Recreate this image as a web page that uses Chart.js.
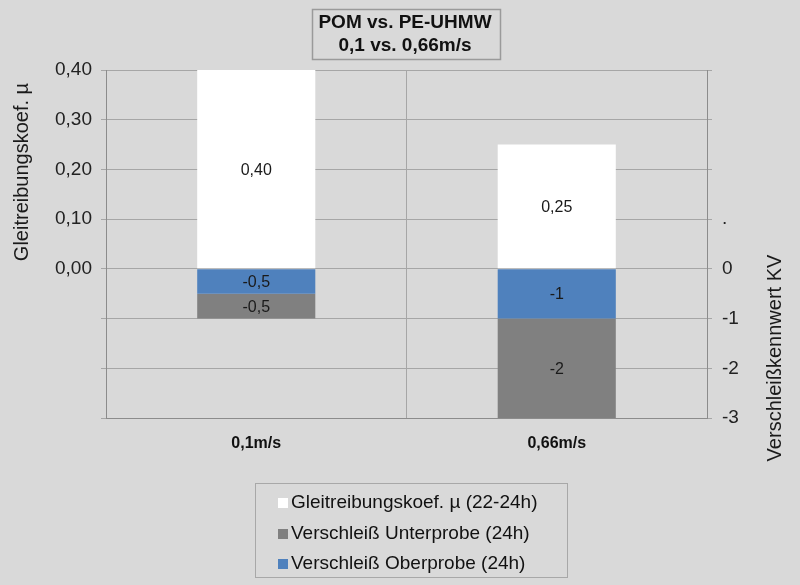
<!DOCTYPE html>
<html><head><meta charset="utf-8">
<script src="https://cdn.jsdelivr.net/npm/chart.js@4/dist/chart.umd.min.js"></script>
<style>html,body{margin:0;padding:0;background:#d9d9d9;} canvas{display:block;}</style>
</head><body>
<canvas id="c" width="800" height="585"></canvas>
<script>
const titleLines = ['POM vs. PE-UHMW', '0,1 vs. 0,66m/s'];
const categories = ['0,1m/s', '0,66m/s'];
const muLabel = 'Gleitreibungskoef. µ (22-24h)';
const muValues = [0.40, 0.25];
const oberLabel = 'Verschleiß Oberprobe (24h)';
const oberValues = [-0.5, -1];
const unterLabel = 'Verschleiß Unterprobe (24h)';
const unterValues = [-0.5, -2];
const leftTitle = 'Gleitreibungskoef. µ';
const rightTitle = 'Verschleißkennwert KV';
const legendOrder = [0, 2, 1];

const FONT = '"Liberation Sans", Arial, sans-serif';
const fmt = (v, d) => (d == null ? String(v) : v.toFixed(d)).replace('.', ',');

const decor = {
  id: 'decor',
  afterDatasetsDraw(chart) {
    const ctx = chart.ctx;
    ctx.save();
    ctx.font = '16px ' + FONT;
    ctx.fillStyle = '#1a1a1a';
    ctx.textAlign = 'center';
    ctx.textBaseline = 'middle';
    chart.data.datasets.forEach((ds, di) => {
      const meta = chart.getDatasetMeta(di);
      meta.data.forEach((el, i) => {
        const v = ds.data[i];
        const txt = di === 0 ? fmt(v, 2) : fmt(v);
        ctx.fillText(txt, el.x, (el.y + el.base) / 2 + 1);
      });
    });
    ctx.restore();
  },
  afterDraw(chart) {
    const ctx = chart.ctx;
    ctx.save();
    // title box
    ctx.font = 'bold 19px ' + FONT;
    ctx.textAlign = 'center';
    ctx.textBaseline = 'middle';
    ctx.strokeStyle = '#9a9a9a';
    ctx.lineWidth = 1.5;
    ctx.strokeRect(312.5, 9.5, 188, 50);
    ctx.fillStyle = '#111';
    ctx.fillText(titleLines[0], 405, 23);
    ctx.fillText(titleLines[1], 405, 46);
    // axis titles
    ctx.font = '20px ' + FONT;
    ctx.fillStyle = '#1a1a1a';
    ctx.save();
    ctx.translate(22, 172);
    ctx.rotate(-Math.PI / 2);
    ctx.fillText(leftTitle, 0, 0);
    ctx.restore();
    ctx.save();
    ctx.translate(775, 358);
    ctx.rotate(-Math.PI / 2);
    ctx.fillText(rightTitle, 0, 0);
    ctx.restore();
    // legend
    ctx.strokeStyle = '#a8a8a8';
    ctx.lineWidth = 1;
    ctx.strokeRect(255.5, 483.5, 312, 94);
    ctx.font = '19px ' + FONT;
    ctx.textAlign = 'left';
    const ys = [502, 533, 563];
    legendOrder.forEach((di, k) => {
      const ds = chart.data.datasets[di];
      ctx.fillStyle = ds.backgroundColor;
      ctx.fillRect(278, ys[k] - 4, 10, 10);
      ctx.fillStyle = '#111';
      ctx.fillText(ds.label, 291, ys[k] + 1);
    });
    ctx.restore();
  }
};

new Chart(document.getElementById('c'), {
  type: 'bar',
  data: {
    labels: categories,
    datasets: [
      { label: muLabel, data: muValues, backgroundColor: '#ffffff', yAxisID: 'y', stack: 's' },
      { label: oberLabel, data: oberValues, backgroundColor: '#4f81bd', yAxisID: 'y2', stack: 's' },
      { label: unterLabel, data: unterValues, backgroundColor: '#808080', yAxisID: 'y2', stack: 's' }
    ]
  },
  options: {
    responsive: false,
    animation: false,
    devicePixelRatio: 1,
    layout: { padding: { top: 70, left: 0, right: 0, bottom: 120 } },
    datasets: { bar: { categoryPercentage: 1, barPercentage: 0.393 } },
    plugins: { legend: { display: false }, title: { display: false }, tooltip: { enabled: false } },
    scales: {
      x: {
        stacked: true,
        afterFit: s => { s.height = 47; },
        grid: { color: '#a6a6a6', drawTicks: false, offset: true },
        border: { color: '#8c8c8c' },
        ticks: { font: { family: FONT, size: 16, weight: 'bold' }, color: '#111', padding: 16 }
      },
      y: {
        position: 'left',
        stacked: true,
        min: -0.3, max: 0.4,
        afterFit: s => { s.width = 106; },
        grid: { color: '#a6a6a6', tickLength: 5 },
        border: { color: '#8c8c8c' },
        ticks: {
          stepSize: 0.1, padding: 9, color: '#222',
          font: { family: FONT, size: 19 },
          callback: v => { const r = Math.round(v * 100) / 100; return r >= 0 ? fmt(r, 2) : ''; }
        }
      },
      y2: {
        position: 'right',
        stacked: true,
        min: -3, max: 4,
        afterFit: s => { s.width = 93; },
        grid: { drawOnChartArea: false, color: '#a6a6a6', tickLength: 5 },
        border: { color: '#8c8c8c' },
        ticks: {
          stepSize: 1, padding: 10, color: '#222',
          font: { family: FONT, size: 19 },
          callback: v => { const r = Math.round(v); return r <= 0 ? String(r) : (r === 1 ? '.' : ''); }
        }
      }
    }
  },
  plugins: [decor]
});
</script>
</body></html>
